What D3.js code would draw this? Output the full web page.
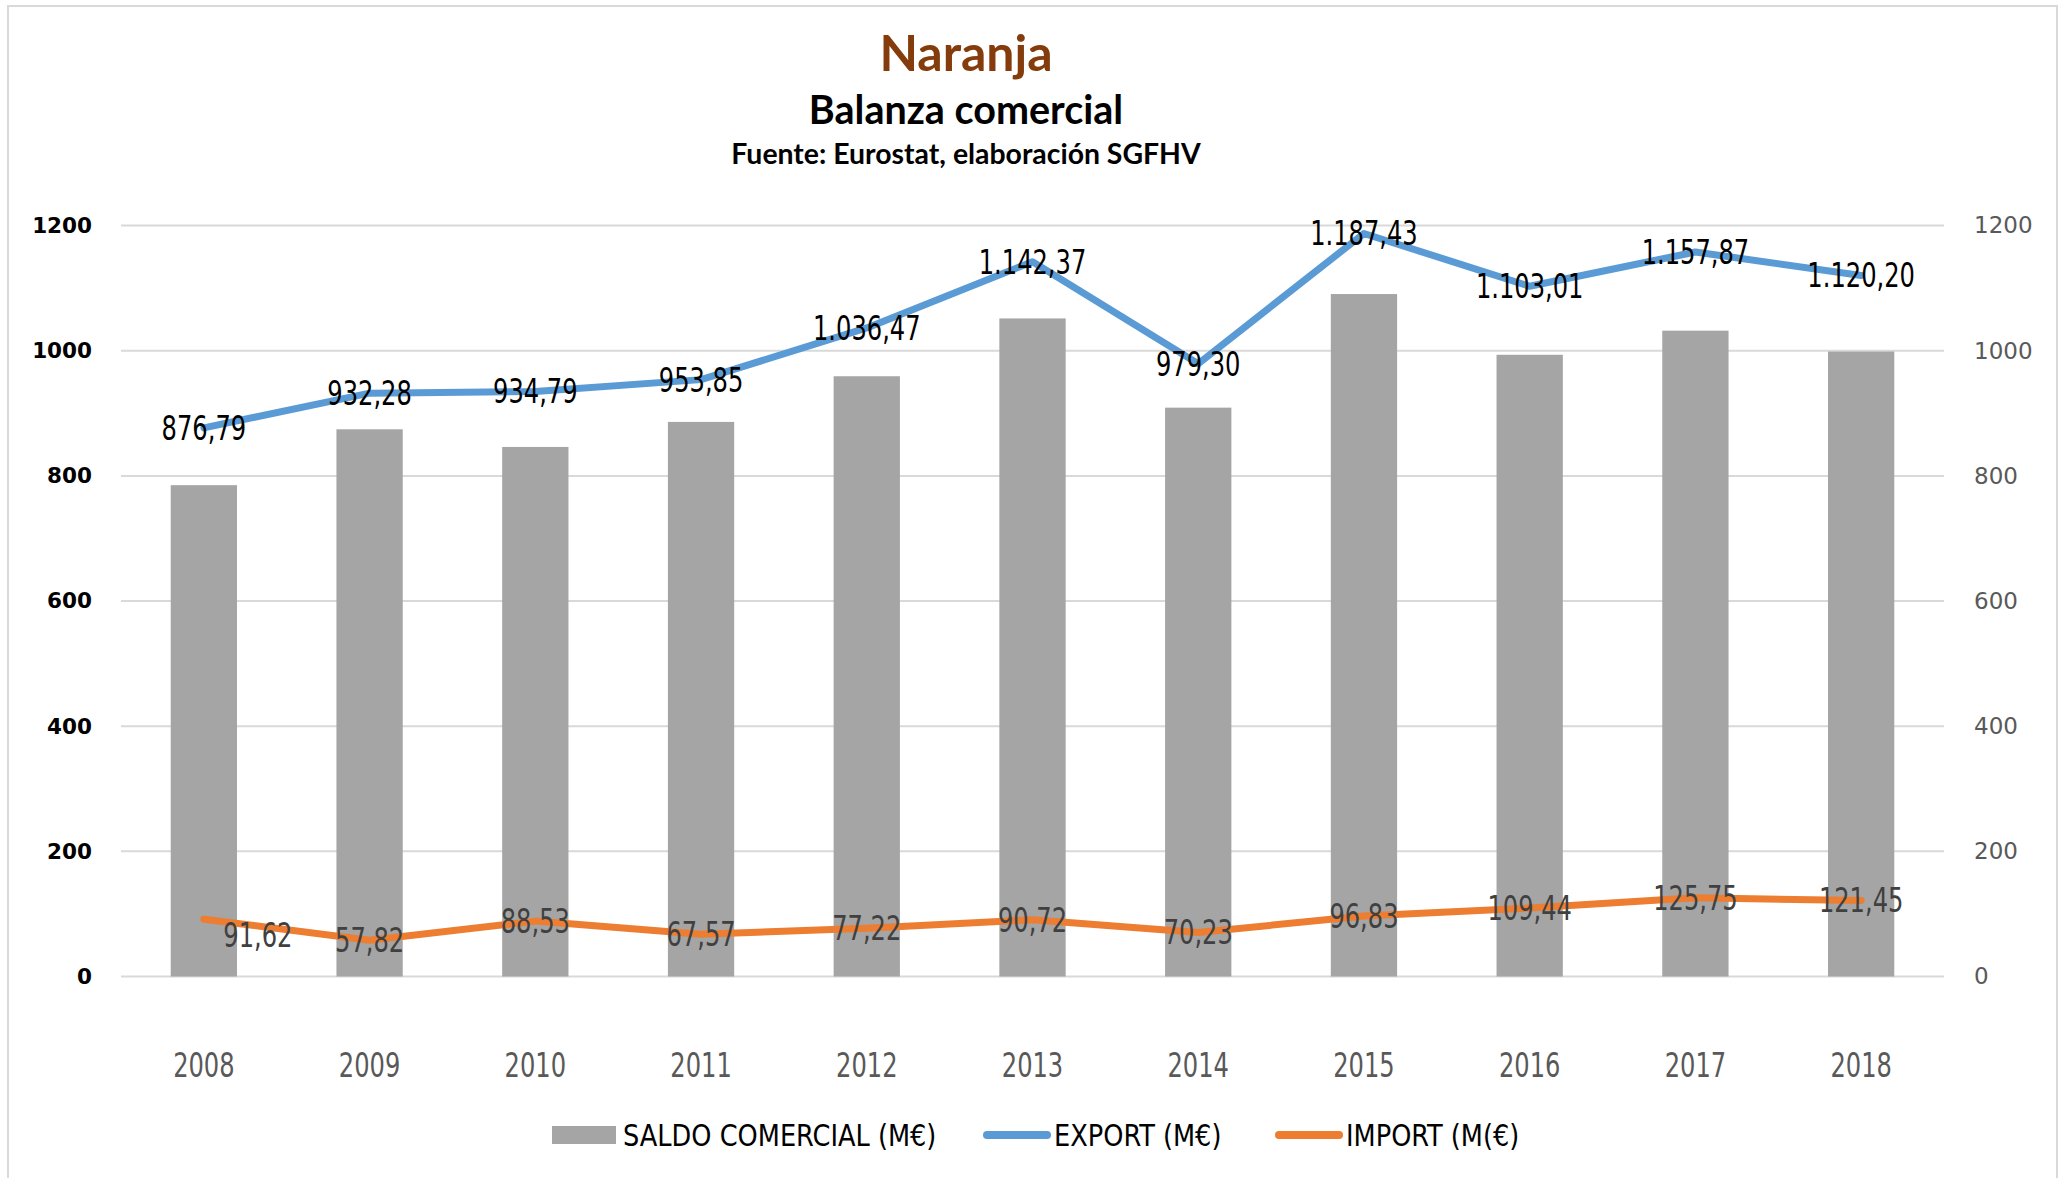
<!DOCTYPE html>
<html>
<head>
<meta charset="utf-8">
<script src="https://cdn.jsdelivr.net/npm/d3@7"></script>
<style>
    body { margin: 0; background: #fff; }
    svg { display: block; }
</style>
</head>
<body>
<div id="chart"></div>
<script>
// Data
const years = ['2008', '2009', '2010', '2011', '2012', '2013', '2014', '2015', '2016', '2017', '2018'];
const exportValues = [876.79, 932.28, 934.79, 953.85, 1036.47, 1142.37, 979.30, 1187.43, 1103.01, 1157.87, 1120.20];
const importValues = [91.62, 57.82, 88.53, 67.57, 77.22, 90.72, 70.23, 96.83, 109.44, 125.75, 121.45];
const saldoValues = [785.17, 874.46, 846.26, 886.28, 959.25, 1051.65, 909.07, 1090.60, 993.57, 1032.12, 998.75];
const yTicks = [0, 200, 400, 600, 800, 1000, 1200];
const legendLabels = ['SALDO COMERCIAL (M€)', 'EXPORT (M€)', 'IMPORT (M(€)'];

const width = 2069;
const height = 1178;
const margin = { top: 225.6, right: 125, bottom: 201.5, left: 121 };

const narrow = '"Liberation Sans Narrow", "DejaVu Sans Condensed", sans-serif';
const titleFont = 'Lato, "Open Sans", sans-serif';
// the original chart text looks squeezed horizontally
const squeeze = 0.79;

const svg = d3.select('#chart')
    .append('svg')
    .attr('width', width)
    .attr('height', height);

// outer chart border
svg.append('rect')
    .attr('x', 8).attr('y', 6)
    .attr('width', 2049).attr('height', 1190)
    .attr('fill', 'none')
    .attr('stroke', '#d9d9d9')
    .attr('stroke-width', 2);

const x = d3.scaleBand()
    .domain(years)
    .range([margin.left, width - margin.right])
    .paddingInner(0.6)
    .paddingOuter(0.3);

const y = d3.scaleLinear()
    .domain([0, 1200])
    .range([height - margin.bottom, margin.top]);

// gridlines
svg.append('g')
    .selectAll('line')
    .data(yTicks)
    .enter()
    .append('line')
    .attr('x1', margin.left)
    .attr('x2', width - margin.right)
    .attr('y1', d => y(d))
    .attr('y2', d => y(d))
    .attr('stroke', '#d9d9d9')
    .attr('stroke-width', 2);

// left axis (bold)
const leftAxis = svg.append('g')
    .attr('transform', `translate(${margin.left - 29},0)`)
    .call(d3.axisLeft(y).tickValues(yTicks).tickFormat(d3.format('d')).tickSize(0).tickPadding(0));
leftAxis.select('.domain').remove();
leftAxis.selectAll('text')
    .style('font-family', '"DejaVu Sans", Verdana, sans-serif')
    .style('font-weight', 'bold')
    .style('font-size', '21.5px')
    .attr('fill', '#000');

// right axis
const rightAxis = svg.append('g')
    .attr('transform', `translate(${width - margin.right + 30},0)`)
    .call(d3.axisRight(y).tickValues(yTicks).tickFormat(d3.format('d')).tickSize(0).tickPadding(0));
rightAxis.select('.domain').remove();
rightAxis.selectAll('text')
    .style('font-family', '"DejaVu Sans", Verdana, sans-serif')
    .style('font-size', '23px')
    .attr('fill', '#595959');

// bottom axis
const bottomAxis = svg.append('g')
    .attr('transform', `translate(0,${height - margin.bottom + 89})`)
    .call(d3.axisBottom(x).tickSize(0).tickPadding(0));
bottomAxis.select('.domain').remove();
bottomAxis.selectAll('text')
    .attr('dy', '0.35em')
    .attr('transform', `scale(${squeeze},1)`)
    .style('font-family', narrow)
    .style('font-size', '34px')
    .attr('fill', '#595959');

// bars
svg.append('g')
    .selectAll('rect')
    .data(saldoValues)
    .enter()
    .append('rect')
    .attr('x', (d, i) => x(years[i]))
    .attr('y', d => y(d))
    .attr('width', x.bandwidth())
    .attr('height', d => y(0) - y(d))
    .attr('fill', '#a5a5a5');

const line = d3.line()
    .x((d, i) => x(years[i]) + x.bandwidth() / 2)
    .y(d => y(d));

svg.append('path')
    .datum(exportValues)
    .attr('d', line)
    .attr('fill', 'none')
    .attr('stroke', '#5b9bd5')
    .attr('stroke-width', 7)
    .attr('stroke-linejoin', 'round')
    .attr('stroke-linecap', 'round');

svg.append('path')
    .datum(importValues)
    .attr('d', line)
    .attr('fill', 'none')
    .attr('stroke', '#ed7d31')
    .attr('stroke-width', 7)
    .attr('stroke-linejoin', 'round')
    .attr('stroke-linecap', 'round');

const fmt = v => {
    const parts = v.toFixed(2).split('.');
    const intPart = parts[0].replace(/\B(?=(\d{3})+(?!\d))/g, '.');
    return intPart + ',' + parts[1];
};

// export labels
svg.append('g')
    .selectAll('text')
    .data(exportValues)
    .enter()
    .append('text')
    .attr('transform', (d, i) => `translate(${x(years[i]) + x.bandwidth() / 2},${y(d)}) scale(${squeeze},1)`)
    .attr('dy', '0.35em')
    .attr('text-anchor', 'middle')
    .style('font-family', narrow)
    .style('font-size', '34px')
    .attr('fill', '#000')
    .text(d => fmt(d));

// import labels (first one sits to the lower right of its point)
svg.append('g')
    .selectAll('text')
    .data(importValues)
    .enter()
    .append('text')
    .attr('transform', (d, i) => {
        const px = x(years[i]) + x.bandwidth() / 2 + (i === 0 ? 54 : 0);
        const py = y(d) + (i === 0 ? 16 : 0);
        return `translate(${px},${py}) scale(${squeeze},1)`;
    })
    .attr('dy', '0.35em')
    .attr('text-anchor', 'middle')
    .style('font-family', narrow)
    .style('font-size', '34px')
    .attr('fill', '#404040')
    .text(d => fmt(d));

// titles
svg.append('text')
    .attr('x', 966).attr('y', 53)
    .attr('dy', '0.35em')
    .attr('text-anchor', 'middle')
    .style('font-family', titleFont)
    .style('font-weight', 'bold')
    .style('font-size', '50px')
    .attr('fill', '#843c0c')
    .text('Naranja');

svg.append('text')
    .attr('x', 966).attr('y', 110)
    .attr('dy', '0.35em')
    .attr('text-anchor', 'middle')
    .style('font-family', titleFont)
    .style('font-weight', 'bold')
    .style('font-size', '39.5px')
    .attr('fill', '#000')
    .text('Balanza comercial');

svg.append('text')
    .attr('x', 966).attr('y', 154)
    .attr('dy', '0.35em')
    .attr('text-anchor', 'middle')
    .style('font-family', titleFont)
    .style('font-weight', 'bold')
    .style('font-size', '28.4px')
    .attr('fill', '#000')
    .text('Fuente: Eurostat, elaboración SGFHV');

// legend
const legendY = 1135;
const legend = svg.append('g');
const legendItems = [
    { x: 552, type: 'rect', color: '#a5a5a5' },
    { x: 983, type: 'line', color: '#5b9bd5' },
    { x: 1275, type: 'line', color: '#ed7d31' }
];
legendItems.forEach((item, i) => {
    if (item.type === 'rect') {
        legend.append('rect')
            .attr('x', item.x).attr('y', legendY - 9)
            .attr('width', 64).attr('height', 18)
            .attr('fill', item.color);
    } else {
        legend.append('line')
            .attr('x1', item.x + 4).attr('x2', item.x + 64)
            .attr('y1', legendY).attr('y2', legendY)
            .attr('stroke', item.color)
            .attr('stroke-width', 8)
            .attr('stroke-linecap', 'round');
    }
    legend.append('text')
        .attr('transform', `translate(${item.x + 71},${legendY}) scale(0.92,1)`)
        .attr('dy', '0.35em')
        .style('font-family', narrow)
        .style('font-size', '31px')
        .attr('fill', '#000')
        .text(legendLabels[i]);
});
</script>
</body>
</html>
